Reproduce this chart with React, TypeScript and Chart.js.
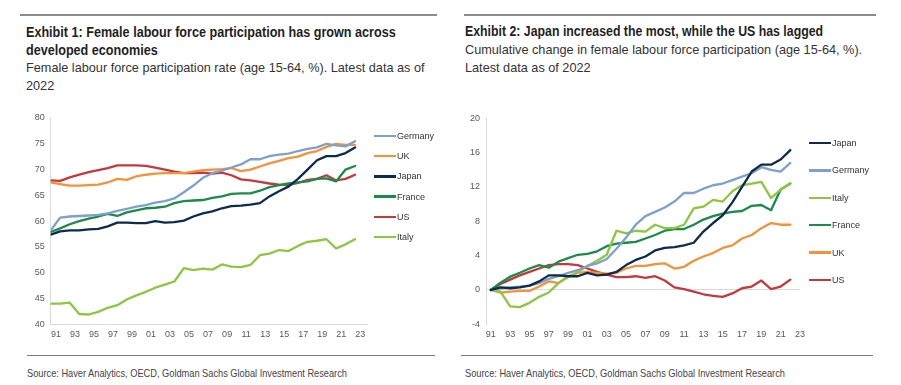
import React, { useEffect, useRef } from "react";
import { Chart, registerables } from "chart.js";

Chart.register(...registerables);

// ---------- DATA ----------
const YEARS_EX1 = [1990, 1991, 1992, 1993, 1994, 1995, 1996, 1997, 1998, 1999, 2000, 2001, 2002, 2003, 2004, 2005, 2006, 2007, 2008, 2009, 2010, 2011, 2012, 2013, 2014, 2015, 2016, 2017, 2018, 2019, 2020, 2021, 2022];
const YEARS_EX2 = [1991, 1992, 1993, 1994, 1995, 1996, 1997, 1998, 1999, 2000, 2001, 2002, 2003, 2004, 2005, 2006, 2007, 2008, 2009, 2010, 2011, 2012, 2013, 2014, 2015, 2016, 2017, 2018, 2019, 2020, 2021, 2022];

const TICK_YEARS = [1991, 1993, 1995, 1997, 1999, 2001, 2003, 2005, 2007, 2009, 2011, 2013, 2015, 2017, 2019, 2021, 2023];
const TICK_LABELS = ["91", "93", "95", "97", "99", "01", "03", "05", "07", "09", "11", "13", "15", "17", "19", "21", "23"];

// Exhibit 1: participation rate (%)
const GERMANY_1 = [58.2, 60.7, 60.9, 61.0, 61.1, 61.2, 61.5, 62.0, 62.4, 62.8, 63.1, 63.6, 63.9, 64.4, 65.6, 66.9, 68.4, 69.3, 69.8, 70.4, 71.0, 72.0, 72.0, 72.6, 72.9, 73.1, 73.6, 74.0, 74.3, 75.0, 74.7, 74.5, 75.5];
const UK_1 = [67.5, 67.2, 66.9, 66.9, 67.0, 67.1, 67.5, 68.2, 68.0, 68.7, 69.0, 69.2, 69.3, 69.3, 69.3, 69.6, 69.9, 70.0, 70.1, 70.3, 69.7, 70.0, 70.6, 71.2, 71.7, 72.2, 72.5, 73.2, 73.6, 74.4, 75.0, 74.8, 74.8];
const JAPAN_1 = [57.4, 58.0, 58.2, 58.2, 58.4, 58.5, 59.0, 59.7, 59.7, 59.6, 59.6, 60.0, 59.7, 59.8, 60.1, 60.9, 61.5, 61.9, 62.5, 62.9, 63.0, 63.2, 63.5, 64.8, 65.8, 66.7, 68.2, 70.0, 71.8, 72.6, 72.6, 73.2, 74.3];
const FRANCE_1 = [57.9, 58.6, 59.4, 60.0, 60.5, 60.9, 61.4, 61.0, 61.7, 62.1, 62.5, 62.6, 62.8, 63.5, 63.9, 64.0, 64.1, 64.5, 64.8, 65.3, 65.4, 65.4, 65.9, 66.6, 67.0, 67.3, 67.5, 67.7, 68.2, 68.3, 67.7, 70.0, 70.7];
const US_1 = [67.9, 67.8, 68.5, 69.0, 69.5, 69.9, 70.3, 70.8, 70.8, 70.8, 70.7, 70.4, 70.0, 69.6, 69.3, 69.3, 69.4, 69.2, 69.4, 68.9, 68.1, 67.9, 67.6, 67.3, 67.1, 67.0, 67.4, 68.0, 68.2, 68.9, 67.9, 68.2, 69.0];
const ITALY_1 = [44.0, 44.0, 44.2, 42.0, 41.9, 42.4, 43.2, 43.7, 44.8, 45.6, 46.3, 47.1, 47.7, 48.3, 50.9, 50.5, 50.8, 50.6, 51.6, 51.2, 51.1, 51.5, 53.4, 53.7, 54.4, 54.2, 55.2, 56.0, 56.2, 56.5, 54.7, 55.5, 56.5];

// Exhibit 2: cumulative change (pp)
const JAPAN_2 = [0, 0.3, 0.2, 0.3, 0.5, 1.0, 1.7, 1.7, 1.6, 1.6, 2.0, 1.7, 1.8, 2.1, 2.9, 3.5, 3.9, 4.6, 4.9, 5.0, 5.2, 5.5, 6.8, 7.8, 8.7, 10.2, 12.0, 13.8, 14.6, 14.6, 15.2, 16.3];
const GERMANY_2 = [0, 0.2, 0.3, 0.4, 0.5, 0.8, 1.3, 1.6, 2.0, 2.3, 2.8, 3.1, 3.6, 4.8, 6.1, 7.6, 8.6, 9.1, 9.6, 10.3, 11.3, 11.3, 11.8, 12.2, 12.4, 12.8, 13.2, 13.6, 14.3, 14.0, 13.8, 14.8];
const ITALY_2 = [0, -0.2, -1.9, -2.0, -1.5, -0.8, -0.3, 0.8, 1.5, 2.1, 2.8, 3.4, 4.1, 6.9, 6.6, 6.9, 6.8, 7.6, 7.2, 7.2, 7.6, 9.5, 9.7, 10.5, 10.3, 11.5, 12.2, 12.4, 12.6, 10.7, 11.7, 12.4];
const FRANCE_2 = [0, 0.85, 1.55, 2.0, 2.5, 2.9, 2.6, 3.3, 3.7, 4.1, 4.2, 4.5, 5.1, 5.4, 5.5, 5.6, 6.0, 6.4, 6.9, 7.1, 7.1, 7.6, 8.2, 8.6, 8.9, 9.1, 9.2, 9.8, 9.9, 9.3, 11.7, 12.4];
const UK_2 = [0, -0.3, -0.2, -0.1, -0.1, 0.4, 1.0, 0.8, 1.6, 2.0, 2.1, 2.0, 1.9, 2.0, 2.5, 2.8, 2.8, 3.0, 3.1, 2.5, 2.7, 3.4, 3.9, 4.3, 4.9, 5.2, 6.0, 6.4, 7.2, 7.8, 7.6, 7.6];
const US_2 = [0, 0.7, 1.2, 1.7, 2.1, 2.5, 2.9, 3.0, 3.0, 2.9, 2.5, 2.1, 1.8, 1.5, 1.5, 1.6, 1.4, 1.6, 1.1, 0.3, 0.1, -0.2, -0.5, -0.7, -0.8, -0.4, 0.2, 0.4, 1.1, 0.1, 0.4, 1.2];

const COLORS: Record<string, string> = {
  Germany: "#7fa0ca",
  UK: "#f39238",
  Japan: "#0c2b4d",
  France: "#1b8a4b",
  US: "#c23a3e",
  Italy: "#8dc641",
};

type Series = { name: string; values: number[] };

const SERIES_1: Series[] = [
  { name: "Germany", values: GERMANY_1 },
  { name: "UK", values: UK_1 },
  { name: "Japan", values: JAPAN_1 },
  { name: "France", values: FRANCE_1 },
  { name: "US", values: US_1 },
  { name: "Italy", values: ITALY_1 },
];

const SERIES_2: Series[] = [
  { name: "Japan", values: JAPAN_2 },
  { name: "Germany", values: GERMANY_2 },
  { name: "Italy", values: ITALY_2 },
  { name: "France", values: FRANCE_2 },
  { name: "UK", values: UK_2 },
  { name: "US", values: US_2 },
];

const TITLE_1 = ["Exhibit 1: Female labour force participation has grown across", "developed economies"];
const SUB_1 = ["Female labour force participation rate (age 15-64, %). Latest data as of", "2022"];
const TITLE_2 = ["Exhibit 2: Japan increased the most, while the US has lagged"];
const SUB_2 = ["Cumulative change in female labour force participation (age 15-64, %).", "Latest data as of 2022"];
const SOURCE = "Source: Haver Analytics, OECD, Goldman Sachs Global Investment Research";

// ---------- STYLE ----------
const AXIS_FONT = "'Liberation Sans', Arial, sans-serif";
const TEXT_FONT = "'Liberation Sans', Arial, sans-serif";
const AXIS_COLOR = "#595959";
const LINE_COLOR = "#d9d9d9";

type PanelProps = {
  left: number;
  top: number;
  width: number;
  height: number;
  years: number[];
  series: Series[];
  xMin: number;
  xMax: number;
  tickShift: number;
  yMin: number;
  yMax: number;
  yStep: number;
  yAxisWidth: number;
  xAxisHeight: number;
  padTop: number;
  padRight: number;
  zeroLine: boolean;
};

function ChartPanel(p: PanelProps) {
  const ref = useRef<HTMLCanvasElement | null>(null);
  useEffect(() => {
    if (!ref.current) return;
    const chart = new Chart(ref.current, {
      type: "line",
      data: {
        datasets: p.series.map((s) => ({
          label: s.name,
          data: p.years.map((y, i) => ({ x: y, y: s.values[i] })),
          borderColor: COLORS[s.name],
          backgroundColor: COLORS[s.name],
          borderWidth: 2.3,
          pointRadius: 0,
          pointHoverRadius: 0,
          tension: 0,
          fill: false,
          borderJoinStyle: "round" as const,
          borderCapStyle: "round" as const,
        })),
      },
      options: {
        responsive: false,
        animation: false,
        devicePixelRatio: 1,
        layout: { padding: { left: 0, right: p.padRight, top: p.padTop, bottom: 0 } },
        plugins: { legend: { display: false }, tooltip: { enabled: false } },
        scales: {
          x: {
            type: "linear",
            min: p.xMin,
            max: p.xMax,
            afterBuildTicks: (s: any) => {
              s.ticks = TICK_YEARS.map((y) => ({ value: y + p.tickShift })).filter(
                (t) => t.value <= p.xMax + 1e-9
              );
            },
            afterFit: (s: any) => {
              s.height = p.xAxisHeight;
            },
            ticks: {
              autoSkip: false,
              maxRotation: 0,
              minRotation: 0,
              padding: 5,
              color: AXIS_COLOR,
              font: { family: AXIS_FONT, size: 9 },
              callback: (_v: any, i: number) => TICK_LABELS[i],
            },
            grid: { display: true, color: "transparent", drawTicks: false },
            border: { display: !p.zeroLine, color: LINE_COLOR, width: 1 },
          },
          y: {
            min: p.yMin,
            max: p.yMax,
            afterFit: (s: any) => {
              s.width = p.yAxisWidth;
            },
            ticks: {
              stepSize: p.yStep,
              padding: 6,
              color: AXIS_COLOR,
              font: { family: AXIS_FONT, size: 9 },
            },
            grid: {
              drawTicks: false,
              color: (ctx: any) =>
                p.zeroLine && ctx.tick && ctx.tick.value === 0 ? LINE_COLOR : "transparent",
            },
            border: { display: true, color: LINE_COLOR, width: 1 },
          },
        },
      },
    } as any);
    return () => chart.destroy();
  }, []);
  return (
    <canvas
      ref={ref}
      width={p.width}
      height={p.height}
      style={{ position: "absolute", left: p.left, top: p.top, width: p.width, height: p.height }}
    />
  );
}

function Legend({ series, left, top, gap }: { series: Series[]; left: number; top: number; gap: number }) {
  return (
    <>
      {series.map((s, i) => (
        <div
          key={s.name}
          style={{
            position: "absolute",
            left,
            top: top + i * gap - 7,
            height: 14,
            display: "flex",
            alignItems: "center",
            fontFamily: AXIS_FONT,
            fontSize: 9,
            color: "#333",
            whiteSpace: "nowrap",
          }}
        >
          <span style={{ display: "inline-block", width: 22, height: 2.5, background: COLORS[s.name], marginRight: 1 }} />
          <span>{s.name}</span>
        </div>
      ))}
    </>
  );
}

function TextBlock({
  lines,
  left,
  top,
  bold,
  size,
  lineHeight,
  color,
  squeeze,
}: {
  lines: string[];
  left: number;
  top: number;
  bold?: boolean;
  size: number;
  lineHeight: number;
  color: string;
  squeeze: number;
}) {
  return (
    <div
      style={{
        position: "absolute",
        left,
        top,
        fontFamily: TEXT_FONT,
        fontSize: size,
        fontWeight: bold ? 700 : 400,
        lineHeight: `${lineHeight}px`,
        color,
        whiteSpace: "nowrap",
        transform: `scaleX(${squeeze})`,
        transformOrigin: "0 0",
      }}
    >
      {lines.map((l, i) => (
        <div key={i}>{l}</div>
      ))}
    </div>
  );
}

export default function App() {
  return (
    <div style={{ position: "absolute", left: 0, top: 0, width: 901, height: 385, background: "#fff", overflow: "hidden" }}>
      {/* top rules */}
      <div style={{ position: "absolute", left: 20, top: 14, width: 417, height: 1.5, background: "#8c8c8c" }} />
      <div style={{ position: "absolute", left: 464, top: 14, width: 412, height: 1.5, background: "#8c8c8c" }} />

      <TextBlock lines={TITLE_1} left={26} top={24} bold size={14} lineHeight={17.8} color="#1f1f1f" squeeze={0.9} />
      <TextBlock lines={SUB_1} left={26} top={59} size={13.5} lineHeight={17.8} color="#333" squeeze={0.94} />
      <TextBlock lines={TITLE_2} left={465} top={23} bold size={14} lineHeight={17.8} color="#1f1f1f" squeeze={0.88} />
      <TextBlock lines={SUB_2} left={465} top={41} size={13.5} lineHeight={17.8} color="#333" squeeze={0.94} />

      <ChartPanel
        left={20}
        top={105}
        width={420}
        height={245}
        years={YEARS_EX1}
        series={SERIES_1}
        xMin={1990}
        xMax={2023.33}
        tickShift={-0.45}
        yMin={40}
        yMax={80}
        yStep={5}
        yAxisWidth={30.7}
        xAxisHeight={25.7}
        padTop={13}
        padRight={72.3}
        zeroLine={false}
      />
      <Legend series={SERIES_1} left={374} top={136} gap={20.2} />

      <ChartPanel
        left={460}
        top={105}
        width={430}
        height={245}
        years={YEARS_EX2}
        series={SERIES_2}
        xMin={1990.5}
        xMax={2023}
        tickShift={0}
        yMin={-4}
        yMax={20}
        yStep={4}
        yAxisWidth={26}
        xAxisHeight={25.7}
        padTop={13.3}
        padRight={90}
        zeroLine={true}
      />
      <Legend series={SERIES_2} left={809} top={143} gap={27.4} />

      {/* bottom rules */}
      <div style={{ position: "absolute", left: 27, top: 355, width: 408, height: 1, background: "#7f7f7f" }} />
      <div style={{ position: "absolute", left: 461, top: 355, width: 412, height: 1, background: "#7f7f7f" }} />

      <TextBlock lines={[SOURCE]} left={27} top={366} size={11} lineHeight={14} color="#444" squeeze={0.84} />
      <TextBlock lines={[SOURCE]} left={465} top={366} size={11} lineHeight={14} color="#444" squeeze={0.84} />
    </div>
  );
}
